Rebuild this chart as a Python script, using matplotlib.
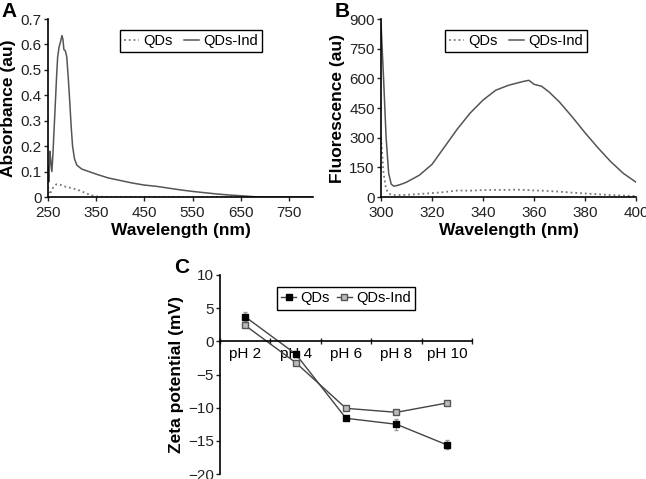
import matplotlib.pyplot as plt
import numpy as np

plt.rcParams['font.family'] = ['Liberation Sans', 'DejaVu Sans']

# panel A - absorbance
absWl = [250, 252, 254, 256, 258, 260, 262, 264, 266, 268, 270, 273, 276, 279, 281, 283, 286, 289,
         292, 295, 298, 301, 305, 310, 320, 335, 350, 375, 400, 425, 450, 475, 500, 525, 550,
         575, 600, 625, 650, 665, 680, 700, 750, 800]
absInd = [0.12, 0.06, 0.18, 0.14, 0.10, 0.16, 0.24, 0.32, 0.40, 0.48, 0.55, 0.59, 0.61, 0.635, 0.62,
          0.58, 0.575, 0.55, 0.47, 0.38, 0.28, 0.20, 0.15, 0.125, 0.11, 0.10, 0.09, 0.075, 0.065,
          0.055, 0.047, 0.042, 0.035, 0.028, 0.022, 0.017, 0.012, 0.008, 0.005, 0.003, 0.001,
          0.0, 0.0, 0.0]
absQD = [0.04, 0.015, 0.01, 0.02, 0.03, 0.035, 0.04, 0.045, 0.048, 0.05, 0.05, 0.05, 0.048, 0.045,
         0.044, 0.042, 0.041, 0.04, 0.039, 0.037, 0.035, 0.034, 0.032, 0.03, 0.022, 0.01, 0.002,
         0.0, 0.0, 0.0, 0.0, 0.0, 0.0, 0.0, 0.0, 0.0, 0.0, 0.0, 0.0, 0.0, 0.0, 0.0, 0.0, 0.0]

# panel B - fluorescence
flWl = [300, 301, 302, 303, 304, 305, 306, 308, 310, 315, 320, 325, 330, 335, 340, 345, 350,
        353, 356, 358, 360, 363, 366, 370, 375, 380, 385, 390, 395, 400]
flInd = [880, 600, 300, 120, 65, 55, 57, 65, 75, 110, 165, 255, 345, 425, 490, 540, 565, 575,
         585, 590, 570, 560, 530, 480, 405, 325, 250, 180, 120, 75]
flQD = [300, 120, 40, 18, 12, 10, 10, 10, 11, 15, 20, 25, 33, 32, 35, 36, 36, 37, 36, 35, 33,
        32, 30, 27, 22, 18, 14, 10, 7, 5]

# panel C - zeta potential
phLabels = ['pH 2', 'pH 4', 'pH 6', 'pH 8', 'pH 10']
zetaQD = [3.7, -1.9, -11.6, -12.5, -15.6]
zetaQDerr = [0.7, 0.4, 0.3, 0.8, 0.7]
zetaInd = [2.4, -3.2, -10.1, -10.7, -9.3]
zetaInderr = [0.3, 0.3, 0.3, 0.3, 0.3]

fig = plt.figure(figsize=(6.46, 4.79), dpi=100)

def style(ax):
    ax.spines['top'].set_visible(False)
    ax.spines['right'].set_visible(False)
    ax.spines['left'].set_linewidth(1.2)
    ax.spines['bottom'].set_linewidth(1.2)
    ax.tick_params(labelsize=11, length=3, width=1, pad=1.5, colors='#222222')
    ax.tick_params(axis='x', pad=3.5)

legkw = dict(ncol=2, fontsize=10.5, frameon=True, fancybox=False, edgecolor='black',
             handlelength=1.0, handletextpad=0.3, columnspacing=0.8, borderpad=0.3,
             borderaxespad=0, framealpha=1)

ax1 = fig.add_axes([0.0743, 0.5887, 0.4102, 0.3716])
ax1.plot(absWl, absQD, color='#777777', ls=':', lw=1.3, label='QDs')
ax1.plot(absWl, absInd, color='#555555', lw=1.1, label='QDs-Ind')
ax1.set_xlim(250, 800)
ax1.set_ylim(0, 0.7)
ax1.set_xticks([250, 350, 450, 550, 650, 750])
ax1.set_yticks([0, 0.1, 0.2, 0.3, 0.4, 0.5, 0.6, 0.7])
ax1.set_yticklabels(['0', '0.1', '0.2', '0.3', '0.4', '0.5', '0.6', '0.7'])
ax1.set_xlabel('Wavelength (nm)', fontsize=12.5, fontweight='bold', labelpad=2)
ax1.set_ylabel('Absorbance (au)', fontsize=12.5, fontweight='bold', labelpad=3)
style(ax1)
ax1.legend(loc='upper center', bbox_to_anchor=(0.54, 0.94), **legkw)

ax2 = fig.add_axes([0.5898, 0.5887, 0.3947, 0.3716])
ax2.plot(flWl, flQD, color='#777777', ls=':', lw=1.3, label='QDs')
ax2.plot(flWl, flInd, color='#555555', lw=1.1, label='QDs-Ind')
ax2.set_xlim(300, 400)
ax2.set_ylim(0, 900)
ax2.set_xticks([300, 320, 340, 360, 380, 400])
ax2.set_yticks([0, 150, 300, 450, 600, 750, 900])
ax2.set_xlabel('Wavelength (nm)', fontsize=12.5, fontweight='bold', labelpad=2)
ax2.set_ylabel('Fluorescence (au)', fontsize=12.5, fontweight='bold', labelpad=3)
style(ax2)
ax2.legend(loc='upper center', bbox_to_anchor=(0.53, 0.94), **legkw)

ax3 = fig.add_axes([0.3406, 0.0104, 0.3901, 0.4155])
x = np.arange(1, len(phLabels) + 1)
ax3.errorbar(x, zetaQD, yerr=zetaQDerr, fmt='none', ecolor='#999999', elinewidth=0.8, capsize=1.5)
ax3.errorbar(x, zetaInd, yerr=zetaInderr, fmt='none', ecolor='#999999', elinewidth=0.8, capsize=1.5)
ax3.plot(x, zetaQD, color='#444444', lw=1, marker='s', ms=5, mfc='black', mec='black', label='QDs')
ax3.plot(x, zetaInd, color='#444444', lw=1, marker='s', ms=5, mfc='#bbbbbb', mec='#555555',
         label='QDs-Ind')
ax3.set_xlim(0.5, 5.5)
ax3.set_ylim(-20, 10)
ax3.set_yticks([-20, -15, -10, -5, 0, 5, 10])
ax3.set_yticklabels(['\u221220', '\u221215', '\u221210', '\u22125', '0', '5', '10'])
ax3.spines['bottom'].set_position(('data', 0))
ax3.set_xticks(np.arange(0.5, 6.0, 1.0))
ax3.set_xticklabels([])
ax3.set_xticks(x, minor=True)
ax3.set_xticklabels(phLabels, minor=True)
ax3.set_ylabel('Zeta potential (mV)', fontsize=12.5, fontweight='bold', labelpad=3)
style(ax3)
ax3.tick_params(axis='x', which='major', direction='inout', length=5)
ax3.tick_params(axis='x', which='minor', length=0, labelsize=11, pad=4)
legkw['columnspacing'] = 0.5
ax3.legend(loc='upper center', bbox_to_anchor=(0.5, 0.94), numpoints=1, **legkw)

fig.text(0.003, 0.995, 'A', fontsize=15, fontweight='bold', va='top')
fig.text(0.518, 0.995, 'B', fontsize=15, fontweight='bold', va='top')
fig.text(0.27, 0.462, 'C', fontsize=15, fontweight='bold', va='top')

fig.savefig('out.png', dpi=100)
